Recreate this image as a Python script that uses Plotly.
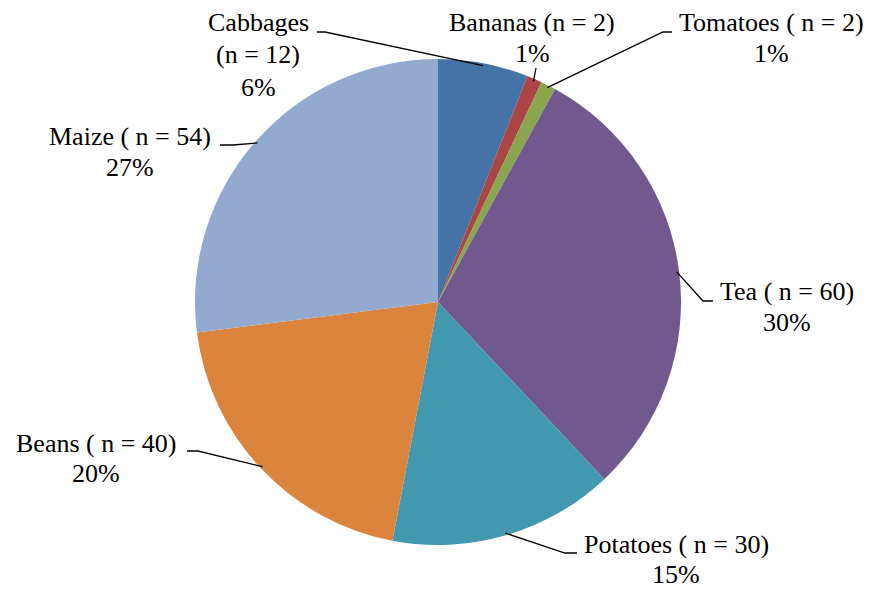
import numpy as np
import plotly.graph_objects as go

# data
crops = ["Cabbages", "Bananas", "Tomatoes", "Tea", "Potatoes", "Beans", "Maize"]
counts = [12, 2, 2, 60, 30, 40, 54]
label_names = [["Cabbages", "(n = 12)"], ["Bananas (n = 2)"], ["Tomatoes ( n = 2)"],
               ["Tea ( n = 60)"], ["Potatoes ( n = 30)"], ["Beans ( n = 40)"], ["Maize ( n = 54)"]]
colors = ["#4572A7", "#AA4643", "#89A54E", "#71588F", "#4198AF", "#DB843D", "#93A9CF"]

W, H = 870, 589
cx, cy, R = 438, 302, 243

# label placement (pixels): text centre, line gap and leader-line bend points (from text side)
label_pos = {
    "Cabbages": (258, 55, 32.5, [(317, 32), (325, 32)]),
    "Bananas": (532, 38, 32, [(536, 68)]),
    "Tomatoes": (771, 38, 32, [(672, 32), (663, 32)]),
    "Tea": (787, 307, 31, [(713, 301), (703, 301)]),
    "Potatoes": (676, 559, 30, [(577, 553), (565, 553)]),
    "Beans": (96, 458, 30, [(187, 451), (198, 451)]),
    "Maize": (130, 152, 30, [(220, 145), (233, 145)]),
}


def px(x, y):
    return x / W, 1 - y / H


fig = go.Figure()
fig.add_trace(go.Pie(
    labels=crops, values=counts, sort=False, direction="clockwise", rotation=0,
    marker=dict(colors=colors, line=dict(width=0)),
    textinfo="none", hoverinfo="label+value+percent", showlegend=False,
    domain=dict(x=[(cx - R) / W, (cx + R) / W], y=[1 - (cy + R) / H, 1 - (cy - R) / H]),
))

total = sum(counts)
cum = np.cumsum([0] + counts[:-1])

for name, lab, v, c0 in zip(crops, label_names, counts, cum):
    ang = 2 * np.pi * (c0 + v / 2) / total
    ax_, ay_ = cx + 0.99 * R * np.sin(ang), cy - 0.99 * R * np.cos(ang)
    tx, ty, gap, bends = label_pos[name]
    lines = lab + [f"{round(100 * v / total)}%"]
    y0 = ty - gap * (len(lines) - 1) / 2
    for i, t in enumerate(lines):
        x, y = px(tx, y0 + i * gap)
        fig.add_annotation(x=x, y=y, xref="paper", yref="paper", text=t, borderpad=0,
                           showarrow=False, xanchor="center", yanchor="middle")
    pts = bends + [(ax_, ay_)]
    path = "M " + " L ".join(f"{px(a, b)[0]},{px(a, b)[1]}" for a, b in pts)
    fig.add_shape(type="path", path=path, xref="paper", yref="paper",
                  line=dict(color="black", width=1.3))

fig.update_layout(width=W, height=H, margin=dict(l=0, r=0, t=0, b=0),
                  font=dict(family="Liberation Serif", size=26, color="black"),
                  paper_bgcolor="white", plot_bgcolor="white")
fig.write_html("out.html", config={"displayModeBar": False},
               post_script="document.body.style.margin='0';")
